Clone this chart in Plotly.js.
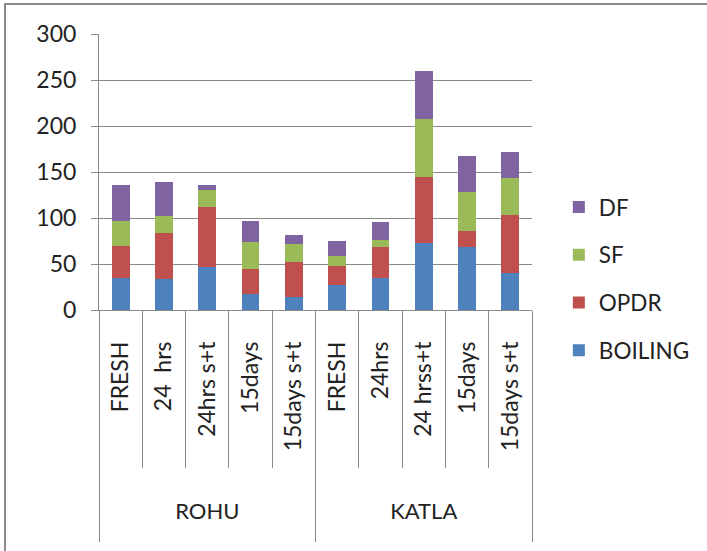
<!DOCTYPE html>
<html><head><meta charset="utf-8">
<script src="https://cdn.plot.ly/plotly-3.0.1.min.js"></script>
<style>
html,body{margin:0;padding:0;background:#fff;}
#wrap{position:relative;width:707px;height:551px;overflow:hidden;}
#chart{width:707px;height:551px;}
#frame{position:absolute;left:4px;top:3px;width:720px;height:600px;border-left:2px solid #8a8a8a;border-top:2px solid #8a8a8a;pointer-events:none;}
</style></head>
<body>
<div id="wrap"><div id="chart"></div><div id="frame"></div></div>
<script>
const groups = ["ROHU","ROHU","ROHU","ROHU","ROHU","KATLA","KATLA","KATLA","KATLA","KATLA"];
const categories = ["FRESH","24\u00a0 hrs","24hrs s+t","15days","15days s+t","FRESH","24hrs","24 hrss+t","15days","15days s+t"];
const boiling = [35.2, 33.4, 46.4, 17.0, 14.1, 26.8, 35.2, 72.9, 68.6, 40.6];
const opdr    = [34.8, 50.7, 65.3, 28.0, 37.8, 20.7, 33.4, 71.5, 17.0, 63.1];
const sf      = [26.5, 18.2, 18.2, 29.4, 19.6, 11.3,  7.2, 62.7, 43.2, 40.3];
const df      = [39.2, 37.3,  5.8, 22.1,  9.7, 15.9, 19.6, 52.6, 39.1, 27.9];
const seriesNames = ["BOILING","OPDR","SF","DF"];
const seriesColors = ["#4F81BD","#C0504D","#9BBB59","#8064A2"];
const seriesValues = [boiling, opdr, sf, df];

// positions derived from the category list
const idx = categories.map((c,i)=>i);
const boundaries = [-0.5].concat(idx.map(i=>i+0.5));
const groupNames = [], groupMembers = [], groupEdges = [-0.5];
groups.forEach((g,i)=>{
  if (i===0 || groups[i-1]!==g){ groupNames.push(g); groupMembers.push([]); if(i>0) groupEdges.push(i-0.5); }
  groupMembers[groupMembers.length-1].push(i);
});
groupEdges.push(groups.length-0.5);
const groupMid = groupMembers.map(a=>a.reduce((s,v)=>s+v,0)/a.length);

const FONT = "Lato, 'Open Sans', sans-serif";
const GRAY = '#8a8a8a';
const traces = seriesValues.map((v,i)=>({
  type:'bar', name:seriesNames[i], x:idx, y:v,
  marker:{color:seriesColors[i], line:{width:0}}, legendgroup:'g'+i,
  legendrank: seriesValues.length - i
}));
// invisible helper traces to activate overlay axes
['x2','x3','x4'].forEach(ax=>traces.push({type:'scatter', x:[idx[0]], y:[0], xaxis:ax, mode:'markers',
  marker:{opacity:0}, showlegend:false, hoverinfo:'skip'}));

const xr = [-0.5, categories.length-0.5];
const layout = {
  width:707, height:551,
  margin:{l:99, r:175, t:34, b:241, autoexpand:false},
  barmode:'stack', bargap:0.59,
  paper_bgcolor:'#fff', plot_bgcolor:'#fff',
  font:{family:FONT, size:23, color:'#222'},
  showlegend:true,
  legend:{traceorder:'grouped', tracegroupgap:15.5, x:1.062, xanchor:'left', y:0.45, yanchor:'top',
          font:{family:FONT, size:22.5, color:'#222'}, bgcolor:'rgba(0,0,0,0)'},
  xaxis:{range:xr, tickmode:'array', tickvals:boundaries, ticktext:boundaries.map(()=>''),
         ticks:'outside', ticklen:157, tickcolor:GRAY, tickwidth:1,
         showline:true, linecolor:GRAY, linewidth:1, showgrid:false, zeroline:false},
  xaxis2:{overlaying:'x', anchor:'y', side:'bottom', range:xr, tickmode:'array', tickvals:idx, ticktext:categories,
          tickangle:-90, ticks:'', ticklabelstandoff:26, showline:false, showgrid:false, zeroline:false,
          tickfont:{family:FONT, size:23, color:'#222'}},
  xaxis3:{overlaying:'x', anchor:'y', side:'bottom', range:xr, tickmode:'array', tickvals:groupMid, ticktext:groupNames,
          tickangle:0, ticks:'', ticklabelstandoff:186, showline:false, showgrid:false, zeroline:false,
          tickfont:{family:FONT, size:22, color:'#222'}},
  xaxis4:{overlaying:'x', anchor:'y', side:'bottom', range:xr, tickmode:'array', tickvals:groupEdges, ticktext:groupEdges.map(()=>''),
          ticks:'outside', ticklen:231, tickcolor:GRAY, tickwidth:1, showline:false, showgrid:false, zeroline:false},
  yaxis:{range:[0,300], dtick:50, ticks:'outside', ticklen:7, tickcolor:GRAY,
         showline:true, linecolor:GRAY, linewidth:1, gridcolor:GRAY, gridwidth:1,
         zeroline:false, ticklabelstandoff:10,
         tickfont:{family:FONT, size:23, color:'#222'}}
};
Plotly.newPlot('chart', traces, layout, {staticPlot:true, displayModeBar:false});
</script>
</body></html>
